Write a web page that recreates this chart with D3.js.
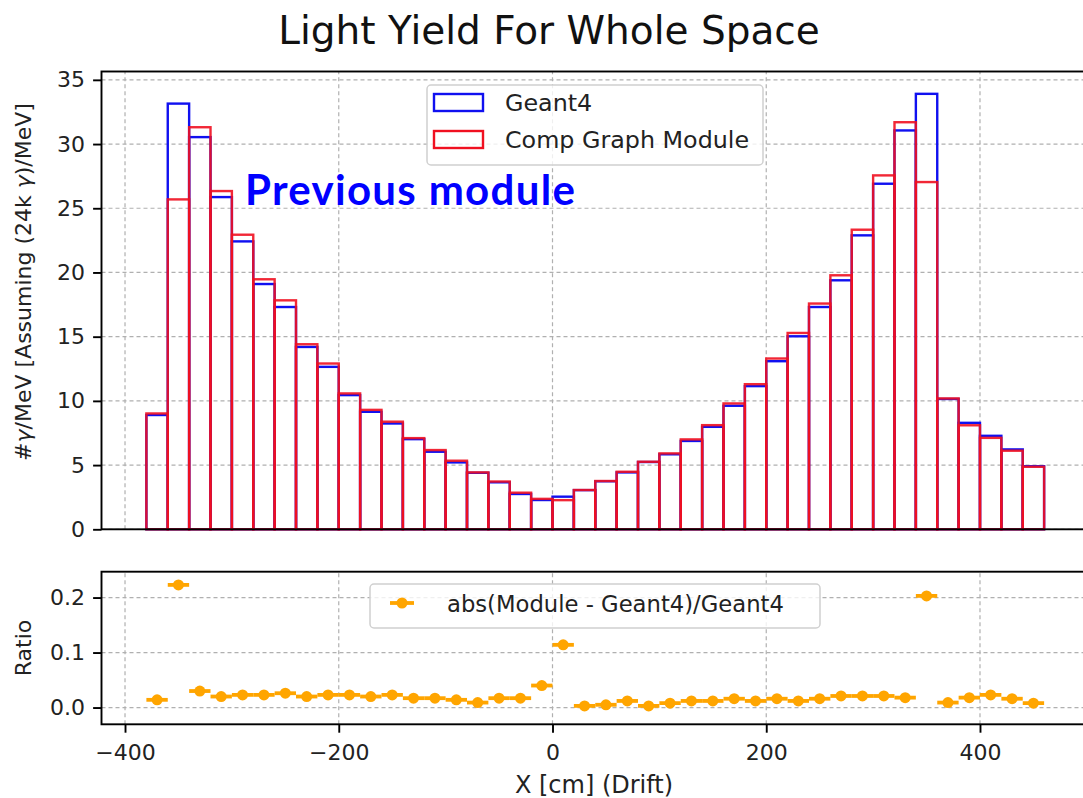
<!DOCTYPE html>
<html>
<head>
<meta charset="utf-8">
<script src="https://cdn.jsdelivr.net/npm/d3@7"></script>
<style>
  body { margin: 0; background: #fff; }
  svg { display: block; font-family: "DejaVu Sans", sans-serif; }
</style>
</head>
<body>
<div id="chart"></div>
<script>
// Bin edges: 20 cm bins from -380 to 460
var binLeft = [-380, -360, -340, -320, -300, -280, -260, -240, -220, -200, -180, -160, -140, -120,
  -100, -80, -60, -40, -20, 0, 20, 40, 60, 80, 100, 120, 140, 160, 180, 200, 220, 240, 260, 280,
  300, 320, 340, 360, 380, 400, 420, 440];
var binWidth = 20;

// Light yield per bin
var geant4 = [8.9, 33.15, 30.54, 25.87, 22.42, 19.1, 17.31, 14.2, 12.65, 10.45, 9.15, 8.24, 7.02, 6.04,
  5.21, 4.4, 3.66, 2.75, 2.28, 2.54, 3.05, 3.74, 4.43, 5.24, 5.84, 6.88, 7.98, 9.62, 11.15, 13.09,
  15.03, 17.31, 19.39, 22.89, 26.91, 31.06, 33.91, 10.15, 8.29, 7.28, 6.22, 4.91];
var compModule = [9.02, 25.69, 31.31, 26.34, 22.94, 19.47, 17.83, 14.41, 12.91, 10.58, 9.3, 8.38, 7.1, 6.17,
  5.34, 4.43, 3.72, 2.85, 2.37, 2.27, 3.06, 3.76, 4.48, 5.26, 5.91, 7.0, 8.11, 9.8, 11.3, 13.3,
  15.29, 17.58, 19.78, 23.33, 27.56, 31.7, 27.04, 10.19, 8.1, 7.12, 6.12, 4.87];

// abs(Module - Geant4)/Geant4 as plotted
var ratio = [0.014, 0.223, 0.03, 0.02, 0.023, 0.023, 0.026, 0.02, 0.023, 0.023, 0.02, 0.023, 0.017, 0.017,
  0.014, 0.009, 0.017, 0.017, 0.04, 0.114, 0.003, 0.005, 0.012, 0.003, 0.008, 0.012, 0.012, 0.016,
  0.012, 0.016, 0.012, 0.016, 0.021, 0.021, 0.021, 0.018, 0.203, 0.009, 0.018, 0.023, 0.016, 0.008];

var xTicks = [-400, -200, 0, 200, 400];
var yTicksTop = [0, 5, 10, 15, 20, 25, 30, 35];
var yTicksBottom = [0.0, 0.1, 0.2];

var width = 1083, height = 798;
var svg = d3.select("#chart").append("svg")
    .attr("width", width)
    .attr("height", height);

// Scales (x shared by both panels)
var x = d3.scaleLinear().domain([-422, 502]).range([101.5, 1089]);
var yTop = d3.scaleLinear().domain([0, 35.65]).range([529.3, 71.5]);
var yBot = d3.scaleLinear().domain([-0.0305, 0.247]).range([724.3, 571.7]);

var gridColor = "#b0b0b0";

function drawGrid(g, y, yTicks) {
    g.selectAll(".vgrid").data(xTicks).join("line")
        .attr("class", "vgrid")
        .attr("x1", d => x(d)).attr("x2", d => x(d))
        .attr("y1", y.range()[0]).attr("y2", y.range()[1])
        .attr("stroke", gridColor).attr("stroke-width", 1.2).attr("stroke-dasharray", "4,3");
    g.selectAll(".hgrid").data(yTicks).join("line")
        .attr("class", "hgrid")
        .attr("x1", x.range()[0]).attr("x2", x.range()[1])
        .attr("y1", d => y(d)).attr("y2", d => y(d))
        .attr("stroke", gridColor).attr("stroke-width", 1.2).attr("stroke-dasharray", "4,3");
}

function drawFrame(g, y) {
    g.append("rect")
        .attr("x", x.range()[0]).attr("y", y.range()[1])
        .attr("width", x.range()[1] - x.range()[0])
        .attr("height", y.range()[0] - y.range()[1])
        .attr("fill", "none").attr("stroke", "#000").attr("stroke-width", 1.9);
}

function styleAxis(g) {
    g.select(".domain").remove();
    g.selectAll("line").attr("stroke-width", 1.9);
    g.selectAll("text").attr("font-size", 22).attr("fill", "#222").attr("font-family", "DejaVu Sans");
}

// ---------- Top panel ----------
var topPanel = svg.append("g");
drawGrid(topPanel, yTop, yTicksTop);

topPanel.selectAll(".g4").data(binLeft).join("rect")
    .attr("class", "g4")
    .attr("x", d => x(d)).attr("width", x(binWidth) - x(0))
    .attr("y", (d, i) => yTop(geant4[i]))
    .attr("height", (d, i) => yTop(0) - yTop(geant4[i]))
    .attr("fill", "none").attr("stroke", "#1010f0").attr("stroke-width", 2.4);

topPanel.selectAll(".mod").data(binLeft).join("rect")
    .attr("class", "mod")
    .attr("x", d => x(d)).attr("width", x(binWidth) - x(0))
    .attr("y", (d, i) => yTop(compModule[i]))
    .attr("height", (d, i) => yTop(0) - yTop(compModule[i]))
    .attr("fill", "none").attr("stroke", "#f01020").attr("stroke-width", 2.4)
    .attr("stroke-opacity", 0.9);

drawFrame(topPanel, yTop);

var yAxisTop = d3.axisLeft(yTop).tickValues(yTicksTop).tickSize(8.4).tickPadding(8);
topPanel.append("g").attr("transform", "translate(" + x.range()[0] + ",0)").call(yAxisTop).call(styleAxis);

// Legend
var leg = topPanel.append("g");
leg.append("rect").attr("x", 427).attr("y", 85).attr("width", 336).attr("height", 80)
    .attr("rx", 4).attr("fill", "#fff").attr("fill-opacity", 0.8)
    .attr("stroke", "#d0d0d0").attr("stroke-width", 1.5);
var legItems = [["Geant4", "#1010f0"], ["Comp Graph Module", "#f01020"]];
leg.selectAll(".item").data(legItems).join("g")
    .attr("class", "item")
    .attr("transform", (d, i) => "translate(0," + (i * 37) + ")")
    .each(function(d) {
        var g = d3.select(this);
        g.append("rect").attr("x", 434).attr("y", 94).attr("width", 49).attr("height", 17)
            .attr("fill", "none").attr("stroke", d[1]).attr("stroke-width", 2.4);
        g.append("text").attr("x", 505).attr("y", 111).attr("font-size", 23.8).attr("fill", "#222")
            .text(d[0]);
    });

// Overlay annotation
topPanel.append("text").attr("x", 245).attr("y", 205)
    .attr("font-family", "Lato, 'Open Sans', sans-serif").attr("font-weight", 700)
    .attr("font-size", 42).attr("letter-spacing", 1.3).attr("fill", "#0000ff")
    .text("Previous module");

// ---------- Bottom panel ----------
var botPanel = svg.append("g");
drawGrid(botPanel, yBot, yTicksBottom);

var pts = botPanel.selectAll(".pt").data(binLeft).join("g").attr("class", "pt");
pts.append("line")
    .attr("x1", d => x(d)).attr("x2", d => x(d + binWidth))
    .attr("y1", (d, i) => yBot(ratio[i])).attr("y2", (d, i) => yBot(ratio[i]))
    .attr("stroke", "#ffa500").attr("stroke-width", 3.8);
pts.append("circle")
    .attr("cx", d => x(d + binWidth / 2)).attr("cy", (d, i) => yBot(ratio[i]))
    .attr("r", 5.5).attr("fill", "#ffa500");

drawFrame(botPanel, yBot);

var yAxisBot = d3.axisLeft(yBot).tickValues(yTicksBottom).tickFormat(d3.format(".1f")).tickSize(8.4).tickPadding(8);
botPanel.append("g").attr("transform", "translate(" + x.range()[0] + ",0)").call(yAxisBot).call(styleAxis);

var xAxis = d3.axisBottom(x).tickValues(xTicks).tickFormat(d => d < 0 ? "\u2212" + Math.abs(d) : d)
    .tickSize(8.4).tickPadding(12);
botPanel.append("g").attr("transform", "translate(0," + yBot.range()[0] + ")").call(xAxis).call(styleAxis);

// Ratio legend
var leg2 = botPanel.append("g");
leg2.append("rect").attr("x", 370).attr("y", 584).attr("width", 450).attr("height", 44)
    .attr("rx", 4).attr("fill", "#fff").attr("fill-opacity", 0.8)
    .attr("stroke", "#d0d0d0").attr("stroke-width", 1.5);
leg2.append("line").attr("x1", 390).attr("x2", 414).attr("y1", 603).attr("y2", 603)
    .attr("stroke", "#ffa500").attr("stroke-width", 3.8);
leg2.append("circle").attr("cx", 402).attr("cy", 603).attr("r", 5.5).attr("fill", "#ffa500");
leg2.append("text").attr("x", 447).attr("y", 612).attr("font-size", 22.7).attr("fill", "#222")
    .text("abs(Module - Geant4)/Geant4");

// ---------- Titles and axis labels ----------
svg.append("text").attr("x", 549).attr("y", 44).attr("text-anchor", "middle")
    .attr("font-size", 39).attr("fill", "#111").text("Light Yield For Whole Space");

var yl = svg.append("text").attr("transform", "translate(31,282) rotate(-90)")
    .attr("text-anchor", "middle").attr("font-size", 22).attr("fill", "#222");
yl.append("tspan").text("#");
yl.append("tspan").attr("font-style", "italic").text("\u03b3");
yl.append("tspan").text("/MeV [Assuming (24k ");
yl.append("tspan").attr("font-style", "italic").text("\u03b3");
yl.append("tspan").text(")/MeV]");

svg.append("text").attr("transform", "translate(31,648) rotate(-90)")
    .attr("text-anchor", "middle").attr("font-size", 22).attr("fill", "#222").text("Ratio");

svg.append("text").attr("x", 594).attr("y", 793).attr("text-anchor", "middle")
    .attr("font-size", 24).attr("fill", "#222").text("X [cm] (Drift)");
</script>
</body>
</html>
